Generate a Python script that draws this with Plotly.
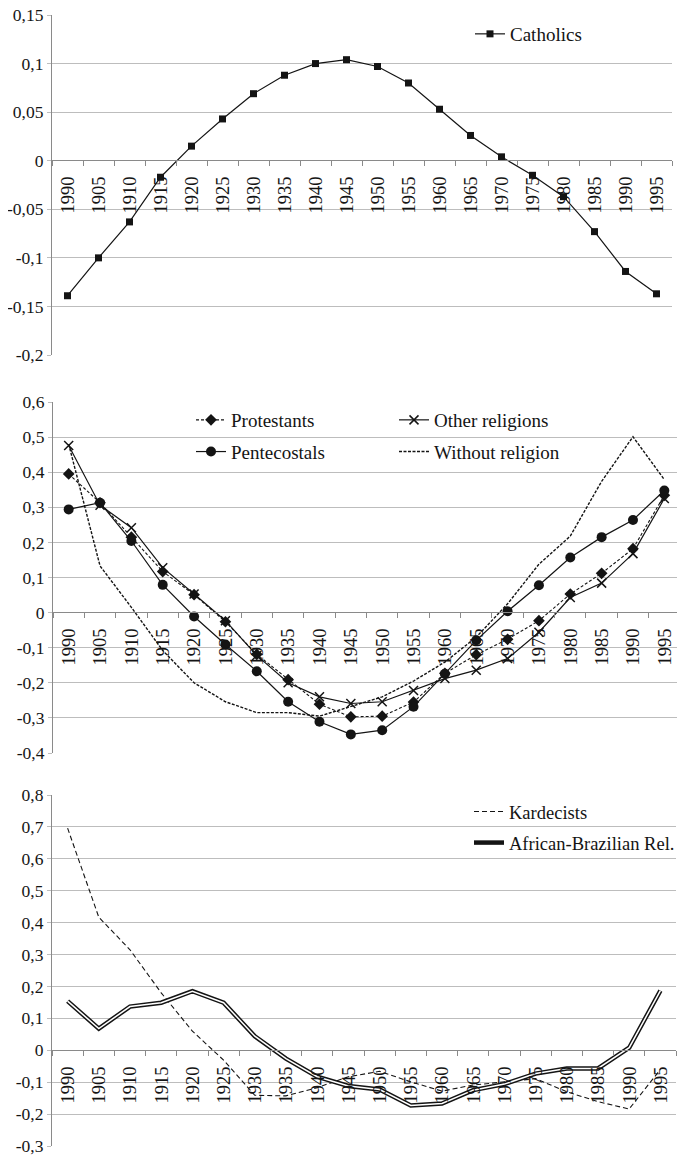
import plotly.graph_objects as go

year_labels = ["1990", "1905", "1910", "1915", "1920", "1925", "1930", "1935", "1940", "1945",
               "1950", "1955", "1960", "1965", "1970", "1975", "1980", "1985", "1990", "1995"]

catholics = [-0.139, -0.100, -0.063, -0.017, 0.015, 0.043, 0.069, 0.088, 0.100, 0.104,
             0.097, 0.080, 0.053, 0.026, 0.004, -0.015, -0.037, -0.073, -0.114, -0.137]

protestants = [0.395, 0.313, 0.215, 0.117, 0.051, -0.026, -0.119, -0.191, -0.261, -0.297,
               -0.295, -0.255, -0.173, -0.120, -0.076, -0.023, 0.053, 0.112, 0.182, 0.334]
other_religions = [0.476, 0.306, 0.242, 0.128, 0.053, -0.023, -0.122, -0.200, -0.240, -0.259,
                   -0.254, -0.222, -0.188, -0.164, -0.131, -0.056, 0.043, 0.084, 0.168, 0.325]
pentecostals = [0.294, 0.313, 0.204, 0.079, -0.011, -0.091, -0.167, -0.254, -0.311, -0.347,
                -0.335, -0.268, -0.174, -0.079, 0.004, 0.078, 0.157, 0.215, 0.264, 0.348]
without_religion = [0.480, 0.133, 0.015, -0.108, -0.200, -0.254, -0.285, -0.285, -0.295, -0.268,
                    -0.240, -0.195, -0.141, -0.070, 0.025, 0.138, 0.218, 0.374, 0.501, 0.379]

kardecists = [0.696, 0.417, 0.315, 0.180, 0.060, -0.031, -0.141, -0.143, -0.117, -0.083,
              -0.066, -0.099, -0.128, -0.109, -0.099, -0.089, -0.130, -0.161, -0.184, -0.060]
african_brazilian = [0.154, 0.068, 0.137, 0.149, 0.185, 0.149, 0.044, -0.026, -0.083, -0.112,
                     -0.123, -0.173, -0.167, -0.125, -0.106, -0.073, -0.057, -0.057, 0.008, 0.187]

y1_ticks = [0.15, 0.1, 0.05, 0, -0.05, -0.1, -0.15, -0.2]
y1_text = ["0,15", "0,1", "0,05", "0", "-0,05", "-0,1", "-0,15", "-0,2"]
y2_ticks = [0.6, 0.5, 0.4, 0.3, 0.2, 0.1, 0, -0.1, -0.2, -0.3, -0.4]
y2_text = ["0,6", "0,5", "0,4", "0,3", "0,2", "0,1", "0", "-0,1", "-0,2", "-0,3", "-0,4"]
y3_ticks = [0.8, 0.7, 0.6, 0.5, 0.4, 0.3, 0.2, 0.1, 0, -0.1, -0.2, -0.3]
y3_text = ["0,8", "0,7", "0,6", "0,5", "0,4", "0,3", "0,2", "0,1", "0", "-0,1", "-0,2", "-0,3"]

# the page body adds an 8 px margin, so the figure is sized to the window minus that offset
OFF = 8
WIN_W, WIN_H = 685, 1156
W, H = WIN_W - OFF, WIN_H - OFF
FONT = "Liberation Serif"
INK = "#141414"
GRID = "#bdbdbd"
AXIS = "#8a8a8a"

def pxx(p):
    return (p - OFF) / W

def pxy(p):
    return 1 - (p - OFF) / H

n = len(year_labels)
idx = list(range(n))
# tick marks sit on category boundaries; labels are shifted half a category to the right
bounds = [i - 0.5 for i in range(n + 1)]
bound_text = year_labels + [""]

fig = go.Figure()

# Panel 1
fig.add_trace(go.Scatter(x=idx, y=catholics, name="Catholics", mode="lines+markers",
                         line=dict(color=INK, width=1.2), marker=dict(symbol="square", size=7, color=INK),
                         xaxis="x", yaxis="y", legend="legend"))

# Panel 2
fig.add_trace(go.Scatter(x=idx, y=protestants, name="Protestants", mode="lines+markers",
                         line=dict(color=INK, width=1.1, dash="3px,2px"),
                         marker=dict(symbol="diamond", size=9, color=INK),
                         xaxis="x2", yaxis="y2", legend="legend2", legendgroup="p"))
fig.add_trace(go.Scatter(x=idx, y=pentecostals, name="Pentecostals", mode="lines+markers",
                         line=dict(color=INK, width=1.2),
                         marker=dict(symbol="circle", size=10, color=INK),
                         xaxis="x2", yaxis="y2", legend="legend2", legendgroup="pe"))
fig.add_trace(go.Scatter(x=idx, y=other_religions, name="Other religions", mode="lines+markers",
                         line=dict(color=INK, width=1.2),
                         marker=dict(symbol="x-thin", size=9, color=INK, line=dict(color=INK, width=1.5)),
                         xaxis="x2", yaxis="y2", legend="legend3", legendgroup="o"))
fig.add_trace(go.Scatter(x=idx, y=without_religion, name="Without religion", mode="lines",
                         line=dict(color=INK, width=1.4, dash="3px,1.5px"),
                         xaxis="x2", yaxis="y2", legend="legend3", legendgroup="w"))

# Panel 3
fig.add_trace(go.Scatter(x=idx, y=kardecists, name="Kardecists", mode="lines",
                         line=dict(color=INK, width=1.1, dash="5px,3px"),
                         xaxis="x3", yaxis="y3", legend="legend4", legendgroup="k"))
fig.add_trace(go.Scatter(x=idx, y=african_brazilian, name="African-Brazilian Rel.", mode="lines",
                         line=dict(color=INK, width=4.5),
                         xaxis="x3", yaxis="y3", legend="legend4", legendgroup="a"))
fig.add_trace(go.Scatter(x=idx, y=african_brazilian, name="African-Brazilian Rel.", mode="lines",
                         line=dict(color="white", width=1.5), showlegend=False, hoverinfo="skip",
                         xaxis="x3", yaxis="y3"))

panels = [
    # x0, x1, top, bottom, yrange, zero_px, ticks, text
    (52, 672, 15, 355, [-0.2, 0.15], 160, y1_ticks, y1_text),
    (53, 680, 402, 753, [-0.4, 0.6], 612, y2_ticks, y2_text),
    (52, 676, 795, 1146, [-0.3, 0.8], 1050, y3_ticks, y3_text),
]

fig.update_layout(template="none", width=W, height=H,
                  margin=dict(l=0, r=0, t=0, b=0, autoexpand=False),
                  paper_bgcolor="white", plot_bgcolor="white",
                  font=dict(family=FONT, size=19, color=INK), showlegend=True)

for i, (x0, x1, top, bot, yr, zpx, tv, tt) in enumerate(panels, start=1):
    sfx = "" if i == 1 else str(i)
    half_cat = int(round((x1 - x0) / n / 2))
    fig.update_layout({
        "xaxis" + sfx: dict(
            domain=[pxx(x0), pxx(x1)], range=[-0.5, n - 0.5],
            anchor="free", position=pxy(zpx), automargin=False,
            tickmode="array", tickvals=bounds, ticktext=bound_text, tickangle=-90,
            ticks="outside", ticklen=5, tickcolor=AXIS, tickwidth=1,
            ticklabelshift=half_cat, ticklabelstandoff=3,
            showline=True, linecolor=AXIS, linewidth=1.2,
            showgrid=False, zeroline=False,
            tickfont=dict(family=FONT, size=18.5, color=INK)),
        "yaxis" + sfx: dict(
            domain=[pxy(bot), pxy(top)], range=yr, anchor="x" + sfx, automargin=False,
            tickmode="array", tickvals=tv, ticktext=tt, ticklabeloverflow="allow",
            showgrid=True, gridcolor=GRID, gridwidth=1.3,
            showline=True, linecolor=AXIS, linewidth=1.2,
            ticks="outside", ticklen=4, tickcolor=GRID, zeroline=False,
            tickfont=dict(family=FONT, size=17.5, color=INK)),
    })

leg_common = dict(bgcolor="rgba(0,0,0,0)", xanchor="left", yanchor="top", tracegroupgap=4, itemwidth=30)
fig.update_layout(
    legend=dict(x=pxx(470), y=pxy(15), font=dict(family=FONT, size=19, color=INK), **leg_common),
    legend2=dict(x=pxx(191), y=pxy(401), font=dict(family=FONT, size=19, color=INK), **leg_common),
    legend3=dict(x=pxx(394), y=pxy(401), font=dict(family=FONT, size=19, color=INK), **leg_common),
    legend4=dict(x=pxx(469), y=pxy(793), font=dict(family=FONT, size=18.5, color=INK), **leg_common),
)

fig.write_html("out.html")
